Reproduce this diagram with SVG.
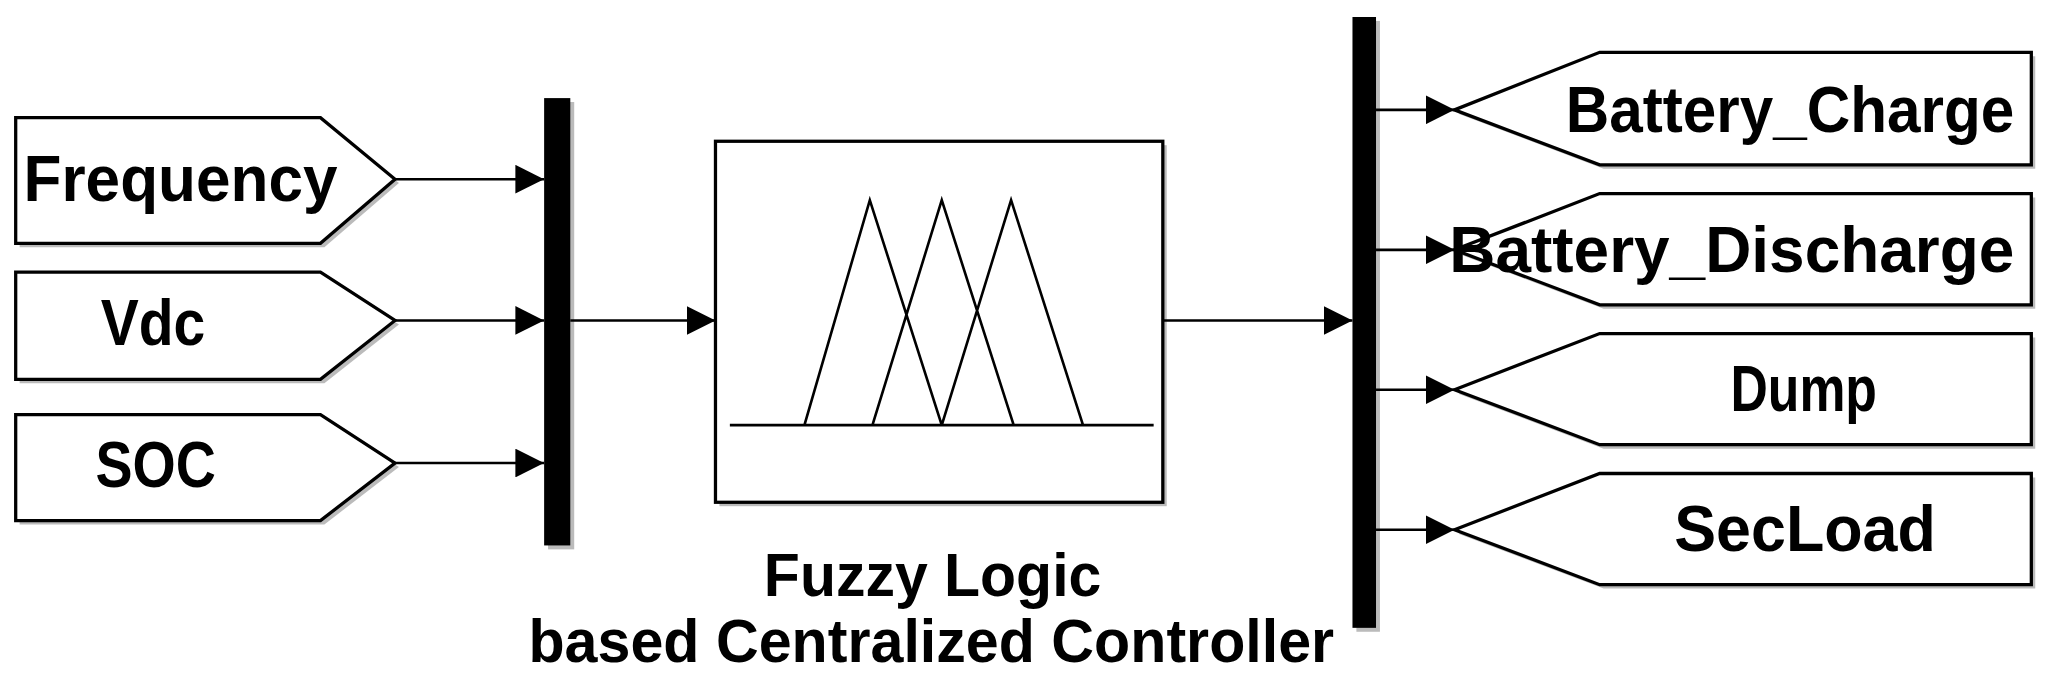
<svg xmlns="http://www.w3.org/2000/svg" width="2051" height="679" viewBox="0 0 2051 679">
<style>
.b{fill:#fff;stroke:#000;stroke-width:2.5}
.s{fill:#bbb;stroke:none}
.l{stroke:#000;stroke-width:2;fill:none}
.t{font-family:"Liberation Sans",Arial,sans-serif;font-weight:bold;font-size:50px;fill:#000}
.c{font-size:46px}
</style>
<defs>
<marker id="a" markerWidth="22" markerHeight="22" refX="22" refY="11" orient="auto" markerUnits="userSpaceOnUse"><path d="M0,0 L22,11 L0,22 Z" fill="#000"/></marker>
</defs>
<rect width="2051" height="679" fill="#fff"/>
<g transform="scale(1.308)">
<g id="frequency"><path class="s" d="M15,93 H248 L305,140 L248,189 H15 Z"/><path class="b" d="M12,90 H245 L302,137 L245,186 H12 Z"/><text class="t" x="18" y="154" textLength="240" lengthAdjust="spacingAndGlyphs">Frequency</text></g>
<g id="vdc"><path class="s" d="M15,211 H248 L305,248 L248,293 H15 Z"/><path class="b" d="M12,208 H245 L302,245 L245,290 H12 Z"/><text class="t" x="77" y="264" textLength="80" lengthAdjust="spacingAndGlyphs">Vdc</text></g>
<g id="soc"><path class="s" d="M15,320 H248 L305,357 L248,401 H15 Z"/><path class="b" d="M12,317 H245 L302,354 L245,398 H12 Z"/><text class="t" x="73" y="372" textLength="92" lengthAdjust="spacingAndGlyphs">SOC</text></g>
<g id="mux"><rect x="419" y="78" width="20" height="342" class="s"/><rect x="416" y="75" width="20" height="342" fill="#000"/></g>
<g id="fuzzy"><rect x="550" y="111" width="342" height="276" class="s"/><rect x="547" y="108" width="342" height="276" class="b"/>
<path class="l" d="M558,325 H882 M615,325 L665,153 L720,325 M667,325 L720,153 L775,325 M720,325 L773,153 L828,325"/>
<text class="t c" x="713" y="456" text-anchor="middle" textLength="258" lengthAdjust="spacingAndGlyphs">Fuzzy Logic</text>
<text class="t c" x="712" y="506" text-anchor="middle" textLength="616" lengthAdjust="spacingAndGlyphs">based Centralized Controller</text></g>
<g id="demux"><rect x="1037" y="16" width="18" height="467" class="s"/><rect x="1034" y="13" width="18" height="467" fill="#000"/></g>
<g id="bc"><path class="s" d="M1115,87 L1226,43 H1556 V129 H1226 Z"/><path class="b" d="M1112,84 L1223,40 H1553 V126 H1223 Z"/><text class="t" x="1540" y="101" text-anchor="end" textLength="343" lengthAdjust="spacingAndGlyphs">Battery_Charge</text></g>
<g id="bd"><path class="s" d="M1115,194 L1226,151 H1556 V236 H1226 Z"/><path class="b" d="M1112,191 L1223,148 H1553 V233 H1223 Z"/><text class="t" x="1540" y="208" text-anchor="end" textLength="432" lengthAdjust="spacingAndGlyphs">Battery_Discharge</text></g>
<g id="dump"><path class="s" d="M1115,301 L1226,258 H1556 V343 H1226 Z"/><path class="b" d="M1112,298 L1223,255 H1553 V340 H1223 Z"/><text class="t" x="1323" y="314" textLength="112" lengthAdjust="spacingAndGlyphs">Dump</text></g>
<g id="secload"><path class="s" d="M1115,408 L1226,365 H1556 V450 H1226 Z"/><path class="b" d="M1112,405 L1223,362 H1553 V447 H1223 Z"/><text class="t" x="1280" y="421" textLength="200" lengthAdjust="spacingAndGlyphs">SecLoad</text></g>
<g id="connectors" class="l" marker-end="url(#a)">
<path d="M302,137 H416"/><path d="M302,245 H416"/><path d="M302,354 H416"/>
<path d="M436,245 H547"/><path d="M889,245 H1034"/>
<path d="M1052,84 H1112"/><path d="M1052,191 H1112"/><path d="M1052,298 H1112"/><path d="M1052,405 H1112"/>
</g>
</g>
</svg>
